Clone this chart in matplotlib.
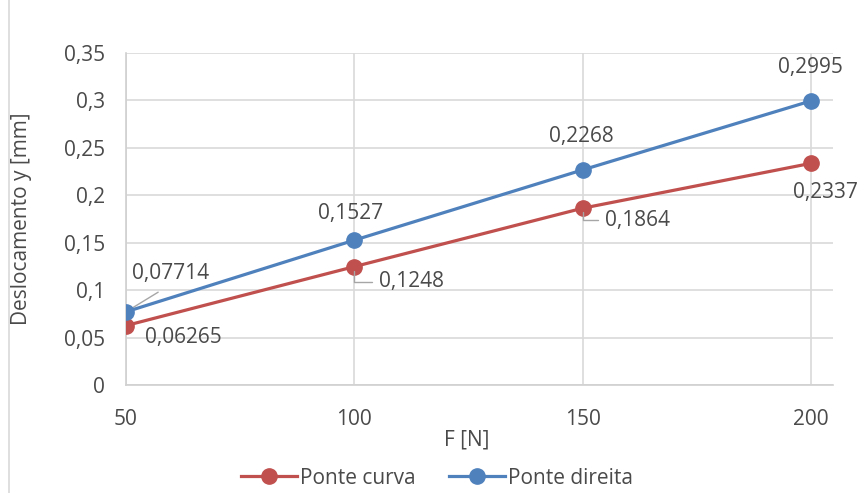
import matplotlib
matplotlib.use('Agg')
import matplotlib.pyplot as plt
from matplotlib.patches import Rectangle
from matplotlib.ticker import FuncFormatter

forces = [50, 100, 150, 200]
ponte_curva = [0.06265, 0.1248, 0.1864, 0.2337]
ponte_direita = [0.07714, 0.1527, 0.2268, 0.2995]
series_names = ['Ponte curva', 'Ponte direita']

red = '#C0504D'
blue = '#4F81BD'
txt = '#4A4A4A'
grid = '#D9D9D9'

plt.rcParams['font.family'] = ['Open Sans', 'DejaVu Sans']
plt.rcParams['font.size'] = 15

fig = plt.figure(figsize=(8.6, 4.93), dpi=100)
ax = fig.add_axes([126/860, 1-385/493, (833-126)/860, (385-53)/493])

# chart frame (cut at right and bottom like the original screenshot)
fig.patches.append(Rectangle((9/860, -0.2), 1.2, 1.2 + (1-14/493), transform=fig.transFigure,
                             fill=False, edgecolor='#D9D9D9', lw=1.2))

ax.plot(forces, ponte_curva, color=red, lw=2.3, marker='o', ms=11, label=series_names[0], zorder=3)
ax.plot(forces, ponte_direita, color=blue, lw=2.3, marker='o', ms=11, label=series_names[1], zorder=4)

ax.set_xlim(50, 204.8)
ax.set_ylim(0, 0.35)
ax.set_xticks(forces)
ax.set_yticks([0, 0.05, 0.1, 0.15, 0.2, 0.25, 0.3, 0.35])

def comma(v, pos):
    s = ('%.2f' % v).rstrip('0').rstrip('.')
    return s.replace('.', ',')

ax.yaxis.set_major_formatter(FuncFormatter(comma))
ax.grid(True, color=grid, lw=1.2)
ax.set_axisbelow(True)
for s in ['top', 'right']:
    ax.spines[s].set_visible(False)
for s in ['left', 'bottom']:
    ax.spines[s].set_color('#D0D0D0')
    ax.spines[s].set_linewidth(1.2)
ax.tick_params(axis='y', length=0, pad=15, labelcolor=txt, labelsize=15)
ax.tick_params(axis='x', length=0, pad=17, labelcolor=txt, labelsize=15)

def lab(v):
    return str(v).replace('.', ',')

leader = dict(arrowstyle='-', color='#A6A6A6', lw=1.0)

# labels for Ponte direita
d_off = [(45, 38), (-4, 27), (-1, 33), (-1, 33)]
for i, (x, y) in enumerate(zip(forces, ponte_direita)):
    kw = {}
    if i == 0:
        kw['arrowprops'] = dict(leader, relpos=(0.5, 0), shrinkA=7, shrinkB=2)
    ax.annotate(lab(y), (x, y), xytext=d_off[i], textcoords='offset pixels',
                ha='center', va='center', color=txt, fontsize=15, annotation_clip=False, **kw)

# labels for Ponte curva
c_off = [(57, -12), (57, -15), (55, -12), (14, -29)]
for i, (x, y) in enumerate(zip(forces, ponte_curva)):
    kw = {}
    if i in (1, 2):
        kw['arrowprops'] = dict(leader, relpos=(0, 0.5), shrinkA=3, shrinkB=3,
                                connectionstyle='angle,angleA=0,angleB=90,rad=0')
    ax.annotate(lab(y), (x, y), xytext=c_off[i], textcoords='offset pixels',
                ha='center', va='center', color=txt, fontsize=15, annotation_clip=False, **kw)

fig.text(22/860, 1-219/493, 'Deslocamento y [mm]', rotation=90, ha='center', va='center',
         color=txt, fontsize=15)
fig.text(467/860, 1-440/493, 'F [N]', ha='center', va='center', color=txt, fontsize=15)

fig.legend(loc='center', bbox_to_anchor=(437/860, 1-478/493), ncol=2, frameon=False,
           handlelength=2.7, handletextpad=0.15, columnspacing=1.6, fontsize=15,
           labelcolor=txt, borderaxespad=0)

fig.savefig('out.png', dpi=100)
